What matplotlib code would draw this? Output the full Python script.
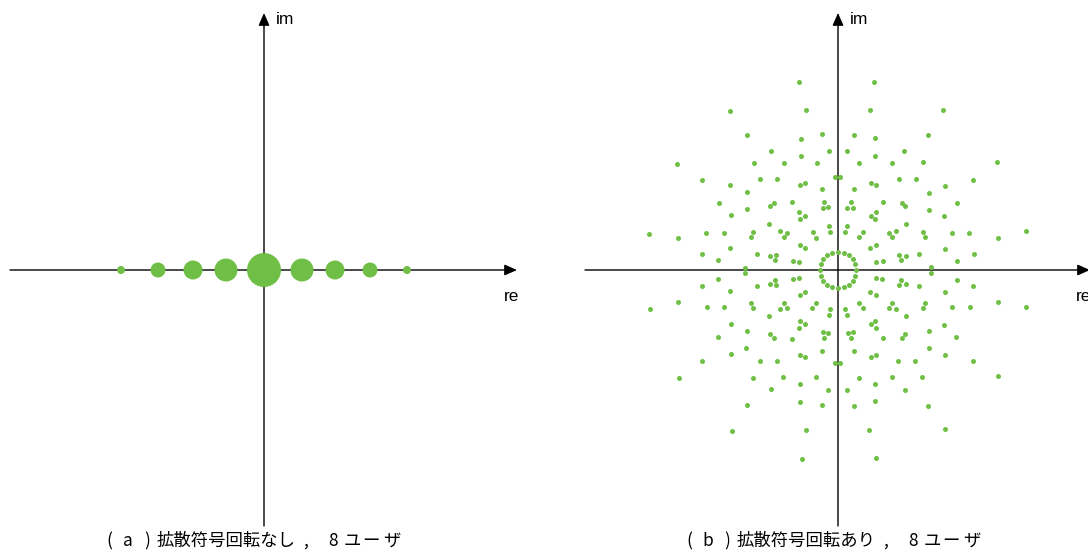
import matplotlib.pyplot as plt

plt.rcParams['font.family'] = ['Liberation Sans', 'DejaVu Sans']

# (a) no spreading-code rotation: 9 levels on the real axis
plain_re = [-143, -106, -71, -38, 0, 38, 71, 106, 143]
plain_im = [0, 0, 0, 0, 0, 0, 0, 0, 0]
plain_diam = [8, 15, 19, 23, 34, 23, 19, 15, 8]  # dot diameters in px

# (b) with rotation: constellation points (re, im) per quadrant
upper_left = [
    (-38.7, 188.0), (-108.0, 159.0), (-32.0, 159.7), (-90.7, 135.3), (-16.3, 136.0),
    (-37.0, 131.0), (-67.0, 119.3), (-9.3, 119.3), (-160.7, 105.7), (-84.3, 107.0),
    (-54.3, 106.7), (-37.0, 114.0), (-21.3, 107.3), (-135.7, 90.3), (-108.0, 84.7),
    (-77.7, 91.0), (-61.0, 91.0), (-38.3, 84.7), (-33.3, 86.7), (-2.7, 92.7),
    (-91.3, 78.0), (-16.3, 80.7), (-119.0, 66.7), (-91.3, 61.0), (-68.0, 63.7),
    (-64.0, 67.3), (-46.0, 68.3), (-13.7, 68.3), (-15.3, 61.7), (-10.0, 62.7),
    (-106.7, 54.7), (-38.7, 57.7), (-33.3, 54.0), (-37.7, 51.0), (-68.7, 45.7),
    (-9.0, 44.3), (-188.7, 36.3), (-160.0, 31.7), (-132.0, 37.0), (-114.0, 37.0),
    (-85.0, 37.7), (-87.0, 33.0), (-58.0, 38.7), (-51.3, 37.3), (-54.3, 33.0),
    (-25.3, 37.7), (-22.0, 32.3), (-7.7, 38.3), (-135.7, 16.0), (-119.7, 9.7),
    (-107.7, 21.7), (-81.0, 16.0), (-68.3, 13.7), (-62.0, 15.0), (-63.0, 9.7),
    (-44.7, 8.7), (-38.7, 7.7), (-38.0, 25.3), (-33.0, 21.7), (-93.0, 2.3),
]
upper_right = [
    (36.0, 188.3), (31.7, 159.7), (105.3, 160.3), (16.0, 135.0), (37.0, 131.7),
    (90.3, 135.3), (9.3, 119.3), (66.3, 118.7), (37.0, 113.7), (21.3, 107.3),
    (54.3, 106.7), (84.7, 107.7), (158.7, 107.7), (2.3, 92.7), (60.7, 90.7),
    (77.7, 90.7), (135.0, 90.3), (32.7, 86.7), (38.0, 84.7), (106.7, 84.0),
    (16.0, 80.7), (91.3, 77.3), (13.3, 68.0), (9.3, 62.3), (14.7, 61.7),
    (45.3, 68.0), (63.7, 67.3), (67.3, 63.7), (119.3, 66.7), (91.0, 60.3),
    (32.7, 54.0), (38.3, 57.7), (37.3, 51.0), (106.3, 54.0), (68.0, 45.7),
    (8.7, 44.3), (7.3, 38.0), (25.0, 37.7), (21.3, 32.7), (51.0, 37.3),
    (57.7, 38.7), (54.0, 33.0), (84.7, 38.0), (86.7, 33.0), (114.0, 36.7),
    (131.0, 36.7), (159.7, 31.7), (188.0, 38.7), (32.3, 21.7), (37.7, 25.3),
    (61.3, 15.0), (68.0, 13.7), (62.7, 9.7), (80.7, 16.0), (107.0, 21.0),
    (136.0, 16.0), (38.3, 7.7), (44.7, 8.7), (119.3, 9.0), (93.0, 2.7),
]
lower_left = [
    (-93.0, -2.7), (-119.7, -9.3), (-136.3, -16.3), (-107.7, -21.3), (-81.0, -16.3),
    (-68.3, -13.7), (-63.0, -10.0), (-61.7, -15.3), (-44.7, -9.3), (-38.7, -8.0),
    (-38.0, -25.3), (-32.7, -22.0), (-160.0, -32.0), (-188.3, -39.0), (-131.3, -37.0),
    (-114.3, -37.0), (-87.0, -33.3), (-85.0, -38.3), (-54.3, -33.3), (-58.0, -39.0),
    (-51.3, -38.0), (-22.0, -32.7), (-25.7, -38.0), (-7.7, -38.7), (-9.0, -44.7),
    (-68.7, -46.0), (-107.0, -54.3), (-91.3, -60.7), (-37.7, -51.3), (-33.0, -54.3),
    (-39.0, -58.0), (-119.7, -67.0), (-67.7, -64.0), (-64.0, -67.7), (-46.0, -68.7),
    (-15.3, -61.7), (-10.0, -63.0), (-13.7, -68.3), (-91.7, -77.7), (-107.3, -84.3),
    (-135.7, -90.7), (-78.3, -91.0), (-61.3, -91.0), (-38.3, -85.0), (-33.3, -87.0),
    (-16.3, -80.7), (-2.7, -93.0), (-159.3, -107.7), (-85.0, -107.7), (-55.0, -107.0),
    (-21.7, -107.3), (-37.7, -114.0), (-67.0, -118.7), (-10.0, -119.7), (-90.7, -135.3),
    (-37.7, -132.0), (-16.3, -135.3), (-106.0, -160.7), (-32.0, -160.0), (-36.3, -188.7),
]
lower_right = [
    (93.0, -2.7), (38.3, -7.7), (44.3, -9.0), (62.7, -10.0), (61.3, -15.0),
    (68.0, -13.7), (80.7, -16.3), (119.3, -9.7), (135.0, -16.3), (32.3, -22.0),
    (37.7, -25.3), (107.0, -21.7), (21.3, -32.7), (25.0, -38.0), (7.3, -38.7),
    (8.7, -44.7), (54.0, -33.3), (51.0, -37.7), (57.7, -39.0), (86.7, -33.3),
    (84.7, -38.3), (113.7, -37.3), (131.7, -37.3), (159.7, -32.0), (188.3, -36.7),
    (68.0, -46.0), (37.3, -51.3), (32.7, -54.3), (38.3, -58.0), (106.3, -55.0),
    (9.7, -63.0), (15.0, -62.0), (13.3, -68.3), (45.3, -68.3), (63.7, -67.7),
    (67.3, -64.0), (90.7, -61.3), (118.3, -67.0), (16.0, -81.0), (90.7, -78.3),
    (33.0, -87.0), (38.0, -85.0), (60.3, -91.3), (77.3, -91.3), (107.3, -85.0),
    (135.0, -90.7), (2.3, -93.0), (20.7, -107.7), (54.0, -107.0), (84.0, -107.3),
    (160.0, -105.7), (9.0, -119.7), (36.7, -114.3), (66.7, -119.7), (16.0, -136.3),
    (36.7, -131.3), (90.3, -135.7), (31.3, -160.0), (107.3, -159.3), (38.3, -188.3),
]
# near-cancelling combinations form a small ring round the origin
center_ring = [
    (18.0, 0.0), (17.1, 5.6), (14.5, 10.6), (10.5, 14.7), (5.5, 17.1),
    (0.0, 18.0), (-5.6, 17.1), (-10.6, 14.6), (-14.7, 10.6), (-17.1, 5.6),
    (-18.0, 0.0), (-17.1, -5.6), (-14.6, -10.6), (-10.6, -14.7), (-5.6, -17.2),
    (0.0, -18.2), (5.5, -17.2), (10.5, -14.7), (14.6, -10.6), (17.1, -5.6),
]

# caption pieces: (a)/(b) label, description, user count
panel_tags = ['a', 'b']
descriptions = ['拡散符号回転なし', '拡散符号回転あり']
user_chars = ['8', 'ユ', 'ー', 'ザ']

GREEN = '#6fbe45'
W, H = 1088, 554
CJK = ['Noto Sans CJK JP', 'DejaVu Sans']


def draw_axes(ax, x_tail, x_tip, y_tail, y_tip, re_xy, im_xy):
    arrow = dict(arrowstyle='-|>,head_length=0.75,head_width=0.33',
                 color='black', lw=1.0, shrinkA=0, shrinkB=0, mutation_scale=10)
    ax.annotate('', xy=(x_tip, 0), xytext=(x_tail, 0), arrowprops=arrow,
                annotation_clip=False)
    ax.annotate('', xy=(0, y_tip), xytext=(0, y_tail), arrowprops=arrow,
                annotation_clip=False)
    ax.text(*re_xy, 're', ha='center', va='center', fontsize=12.5)
    ax.text(*im_xy, 'im', ha='left', va='center', fontsize=12.5)


def draw_caption(x0, tag, desc):
    # wide, typewriter-like spacing, laid out piece by piece (x in px from x0)
    pieces = [(4, '(', 'center'), (23, tag, 'center'), (42, ')', 'center'),
              (52, desc, 'left'), (200, ',', 'center'), (228, user_chars[0], 'center'),
              (239, user_chars[1], 'left'), (257, user_chars[2], 'left'),
              (278, user_chars[3], 'left')]
    y = 1 - 541 / H
    for dx, s, ha in pieces:
        fig.text((x0 + dx) / W, y, s, ha=ha, va='center', fontsize=12.5, family=CJK)


fig = plt.figure(figsize=(W / 100, H / 100), dpi=100)

# left panel, origin at px (264, 270)
ax1 = fig.add_axes([0, 0, 0.5, 1])
ax1.set_xlim(-264, W / 2 - 264)
ax1.set_ylim(-(H - 270), 270)
ax1.axis('off')
draw_axes(ax1, -254, 253, -256, 257, (248, -27), (12, 250))
ax1.scatter(plain_re, plain_im, s=[(d * 0.72) ** 2 for d in plain_diam],
            color=GREEN, linewidths=0, zorder=3)

# right panel, origin at px (838, 270)
ax2 = fig.add_axes([0.5, 0, 0.5, 1])
ax2.set_xlim(-(838 - W / 2), W - 838)
ax2.set_ylim(-(H - 270), 270)
ax2.axis('off')
draw_axes(ax2, -253, 252, -256, 257, (246, -27), (12, 250))
for pts in (upper_left, upper_right, lower_left, lower_right, center_ring):
    ax2.scatter([p[0] for p in pts], [p[1] for p in pts], s=13,
                color=GREEN, linewidths=0, zorder=3)

for x0, tag, desc in zip((105, 685), panel_tags, descriptions):
    draw_caption(x0, tag, desc)

fig.savefig('out.png', dpi=100)
